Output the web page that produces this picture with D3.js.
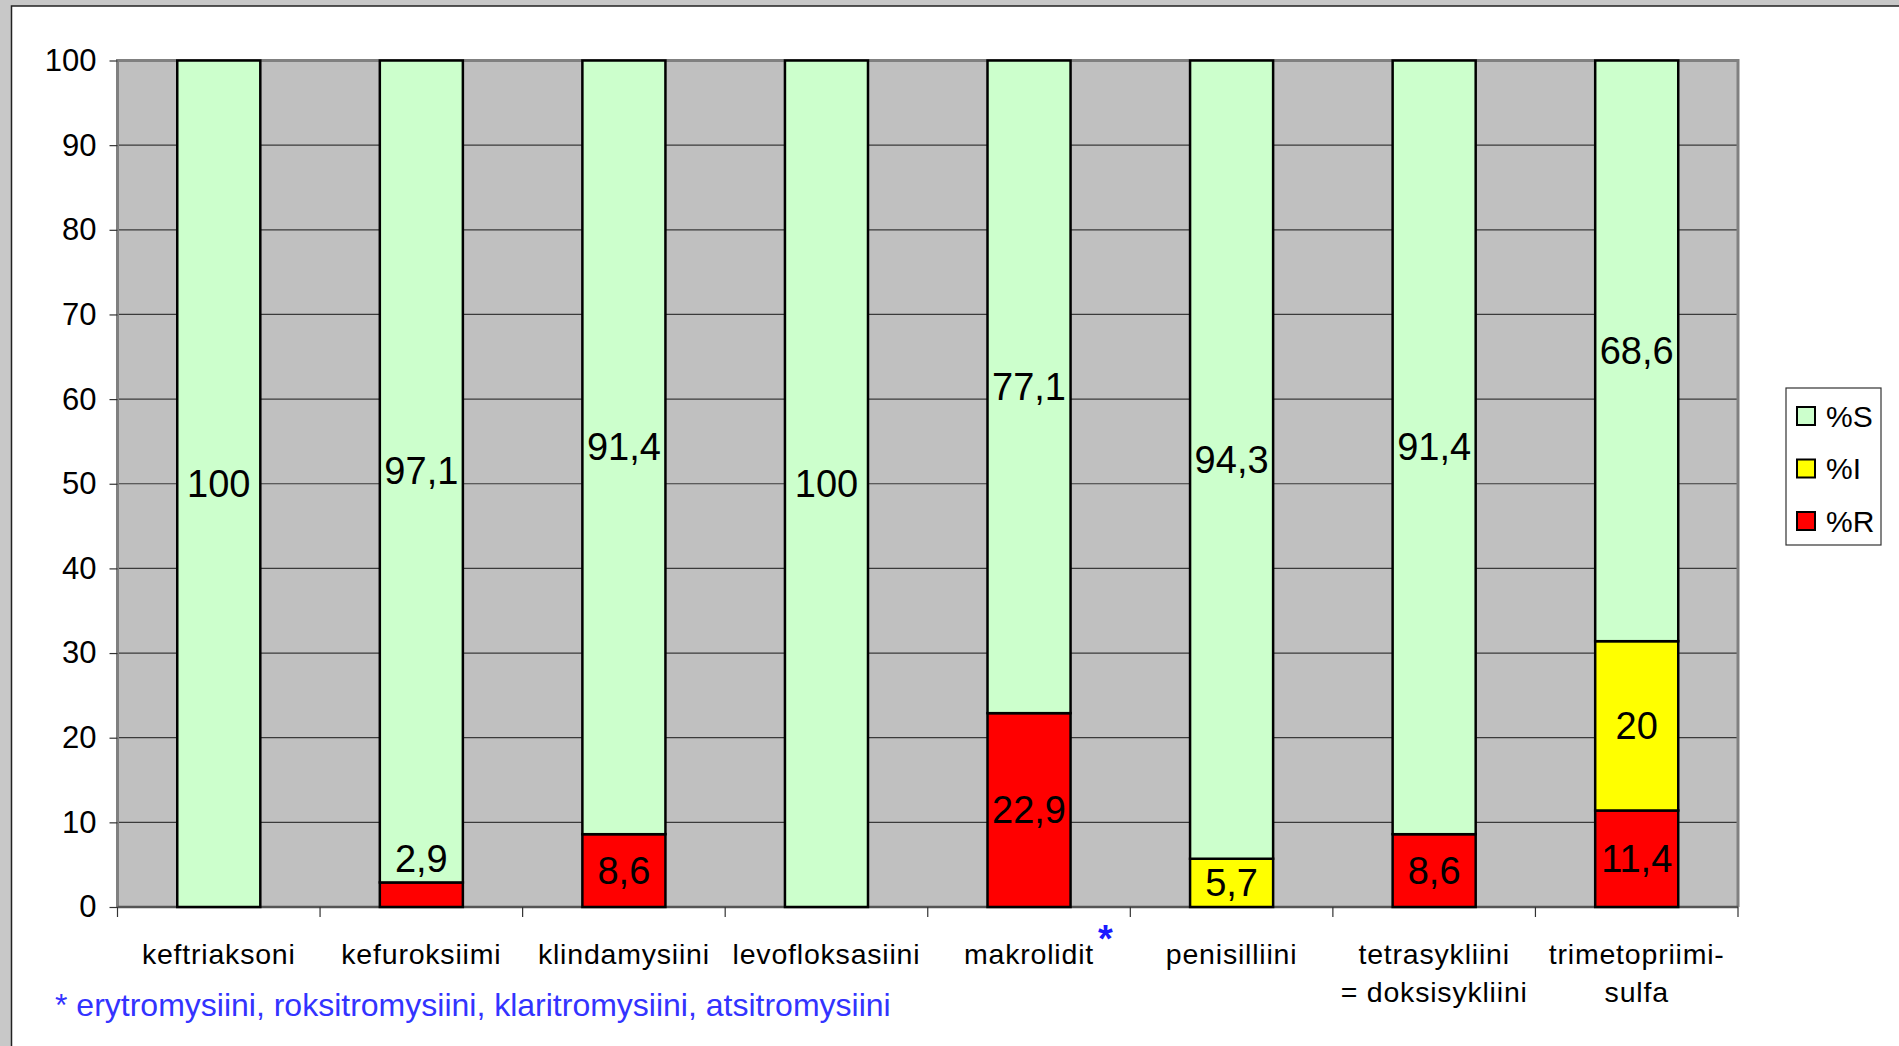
<!DOCTYPE html>
<html><head><meta charset="utf-8">
<script src="https://cdn.jsdelivr.net/npm/d3@7"></script>
<style>html,body{margin:0;padding:0;background:#c8c8c8;overflow:hidden}svg{display:block}text{font-family:"Liberation Sans",Arial,sans-serif}</style>
</head><body>
<script>
const categories = ["keftriaksoni","kefuroksiimi","klindamysiini","levofloksasiini","makrolidit","penisilliini","tetrasykliini\n= doksisykliini","trimetopriimi-\nsulfa"];
const seriesNames = ["%R","%I","%S"];
const valuesR = [0, 2.9, 8.6, 0, 22.9, 0, 8.6, 11.4];
const valuesI = [0, 0, 0, 0, 0, 5.7, 0, 20];
const valuesS = [100, 97.1, 91.4, 100, 77.1, 94.3, 91.4, 68.6];
const yTicks = [0,10,20,30,40,50,60,70,80,90,100];
const footnote = "* erytromysiini, roksitromysiini, klaritromysiini, atsitromysiini";
const colors = {"%R":"#FF0000","%I":"#FFFF00","%S":"#CCFFCC"};

const W = 1899, H = 1046;
const plot = {left:117.5, right:1738, top:60.5, bottom:907};
const svg = d3.select("body").append("svg").attr("width",W).attr("height",H);

// page frame
svg.append("rect").attr("x",0).attr("y",0).attr("width",W).attr("height",H).attr("fill","#c8c8c8");
svg.append("rect").attr("x",11.5).attr("y",6).attr("width",W).attr("height",H).attr("fill","#fff").attr("stroke","#222").attr("stroke-width",1.5);

const x = d3.scaleBand().domain(categories).range([plot.left, plot.right]).paddingInner(0.59).paddingOuter(0.295);
const step = x.step();
const y = d3.scaleLinear().domain([0,100]).range([plot.bottom, plot.top]);

// plot background
svg.append("rect").attr("x",plot.left).attr("y",plot.top).attr("width",plot.right-plot.left).attr("height",plot.bottom-plot.top).attr("fill","#c0c0c0");

// gridlines
svg.append("g").selectAll("line").data(yTicks.filter(d=>d>0 && d<100)).join("line")
  .attr("x1",plot.left).attr("x2",plot.right).attr("y1",d=>y(d)).attr("y2",d=>y(d))
  .attr("stroke","#3a3a3a").attr("stroke-width",1.2);

// plot border (gray)
svg.append("path").attr("d",`M${plot.left},${plot.bottom}V${plot.top}H${plot.right}V${plot.bottom}`)
  .attr("fill","none").attr("stroke","#808080").attr("stroke-width",3);

// y axis
const yAxis = d3.axisLeft(y).tickValues(yTicks).tickSize(8).tickPadding(13);
const yg = svg.append("g").attr("transform",`translate(${plot.left},0)`).call(yAxis);
yg.select(".domain").remove();
yg.selectAll("line").attr("stroke","#333").attr("stroke-width",1.2);
yg.selectAll("text").attr("font-size",31).attr("fill","#000").attr("font-family","'Liberation Sans',Arial,sans-serif");

// x axis line and ticks at category boundaries
svg.append("line").attr("x1",plot.left).attr("x2",plot.right).attr("y1",plot.bottom).attr("y2",plot.bottom).attr("stroke","#555").attr("stroke-width",2.5);
const bounds = d3.range(categories.length+1).map(i => plot.left + i*step);
svg.append("g").selectAll("line").data(bounds).join("line")
  .attr("x1",d=>d).attr("x2",d=>d).attr("y1",plot.bottom).attr("y2",plot.bottom+10)
  .attr("stroke","#333").attr("stroke-width",1.2);

// stacked data
const rows = categories.map((c,i)=>({cat:c,"%R":valuesR[i],"%I":valuesI[i],"%S":valuesS[i]}));
const stack = d3.stack().keys(seriesNames)(rows);

const gBars = svg.append("g");
stack.forEach(layer=>{
  const key = layer.key;
  layer.forEach((seg,i)=>{
    const v = seg[1]-seg[0];
    if (v <= 0) return;
    gBars.append("rect")
      .attr("x",x(categories[i])).attr("width",x.bandwidth())
      .attr("y",y(seg[1])).attr("height",y(seg[0])-y(seg[1]))
      .attr("fill",colors[key]).attr("stroke","#000").attr("stroke-width",2.5);
  });
});

// data labels
const labelSize = 38;
stack.forEach(layer=>{
  layer.forEach((seg,i)=>{
    const v = seg[1]-seg[0];
    if (v <= 0) return;
    const h = y(seg[0])-y(seg[1]);
    const cx = x(categories[i]) + x.bandwidth()/2;
    let yy, base;
    if (h < labelSize*0.9) { yy = y(seg[1]) - 10; base = "auto"; }
    else { yy = (y(seg[0])+y(seg[1]))/2; base = "central"; }
    svg.append("text").attr("x",cx).attr("y",yy).attr("text-anchor","middle")
      .attr("dominant-baseline",base).attr("font-size",labelSize).attr("fill","#000")
      .text(String(v.toFixed(1)).replace(/\.0$/,"").replace(".",","));
  });
});

// category labels
const gCat = svg.append("g");
categories.forEach(c=>{
  const lines = c.split("\n");
  const cx = x(c) + x.bandwidth()/2;
  const t = gCat.append("text").attr("x",cx).attr("y",964).attr("text-anchor","middle").attr("font-size",28.5).attr("letter-spacing",0.8).attr("fill","#000");
  lines.forEach((ln,j)=>t.append("tspan").attr("x",cx).attr("dy",j===0?0:38).text(ln));
});

// asterisk after makrolidit
svg.append("text").attr("x",x("makrolidit")+x.bandwidth()/2+69).attr("y",952).attr("font-size",38).attr("font-weight","bold").attr("fill","#1a1aff").text("*");

// footnote
svg.append("text").attr("x",55).attr("y",1016).attr("font-size",32).attr("fill","#3333ff").text(footnote);

// legend
const lg = svg.append("g");
lg.append("rect").attr("x",1786).attr("y",388).attr("width",95).attr("height",157).attr("fill","#fff").attr("stroke","#333").attr("stroke-width",1.2);
const legendKeys = ["%S","%I","%R"];
legendKeys.forEach((k,i)=>{
  const cy = 416 + i*52.5;
  lg.append("rect").attr("x",1797).attr("y",cy-9).attr("width",18).attr("height",18).attr("fill",colors[k]).attr("stroke","#000").attr("stroke-width",2);
  lg.append("text").attr("x",1826).attr("y",cy).attr("dominant-baseline","central").attr("font-size",30).attr("fill","#000").text(k);
});
</script>
</body></html>
